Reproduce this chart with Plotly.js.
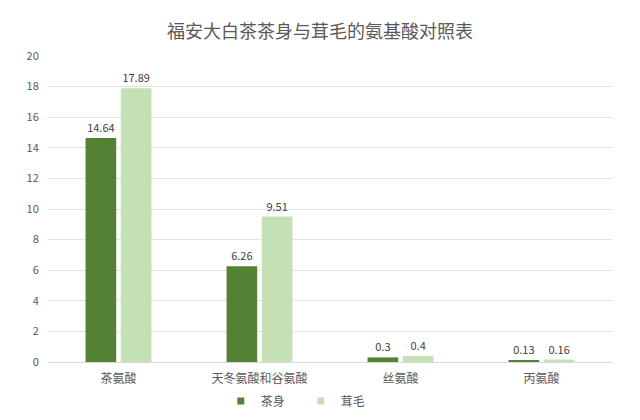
<!DOCTYPE html>
<html>
<head>
<meta charset="utf-8">
<script src="https://cdn.plot.ly/plotly-3.0.1.min.js"></script>
<style>html,body{margin:0;padding:0;background:#fff;}#chart{width:640px;height:420px;}</style>
</head>
<body>
<div id="chart"></div>
<script>
const categories = ['茶氨酸', '天冬氨酸和谷氨酸', '丝氨酸', '丙氨酸'];
const seriesNames = ['茶身', '茸毛'];
const seriesColors = ['#548235', '#c5e0b4'];
const chaShen = [14.64, 6.26, 0.3, 0.13];
const rongMao = [17.89, 9.51, 0.4, 0.16];
const yTicks = [0, 2, 4, 6, 8, 10, 12, 14, 16, 18, 20];

const font = "'Noto Sans CJK SC', 'Noto Sans', sans-serif";
const barSeries = [chaShen, rongMao];
const traces = barSeries.map((vals, i) => ({
  type: 'bar', name: seriesNames[i], x: categories, y: vals, showlegend: false,
  marker: {color: seriesColors[i]}, text: vals.map(String), textposition: 'outside',
  textfont: {size: 11, color: '#404040'}, cliponaxis: false
}));
// legend entries with small square swatches
seriesNames.forEach((n, i) => traces.push({
  type: 'scatter', mode: 'markers', name: n, x: [null], y: [null],
  marker: {symbol: 'square', size: 7, color: seriesColors[i]}, showlegend: true
}));
const layout = {
  width: 640, height: 420,
  margin: {l: 48, r: 28, t: 56, b: 58},
  paper_bgcolor: '#fff', plot_bgcolor: '#fff',
  font: {family: font, color: '#595959', size: 11},
  title: {text: '福安大白茶茶身与茸毛的氨基酸对照表', x: 0.5, xanchor: 'center', y: 0.925, yanchor: 'middle',
          font: {size: 18, color: '#595959', family: font}},
  barmode: 'group', bargap: 0.5, bargroupgap: 0.13,
  xaxis: {type: 'category', showgrid: false, showline: true, linecolor: '#d9d9d9',
          ticks: 'outside', ticklen: 6, tickcolor: 'rgba(0,0,0,0)',
          tickfont: {size: 12, color: '#595959'}},
  yaxis: {range: [0, 20], tickvals: yTicks, showgrid: true, gridcolor: '#e3e3e3', zeroline: false,
          showline: false, ticks: 'outside', ticklen: 6, tickcolor: 'rgba(0,0,0,0)',
          tickfont: {size: 11, color: '#595959'}},
  legend: {orientation: 'h', x: 0.47, xanchor: 'center', xref: 'container',
           y: 0.045, yanchor: 'middle', yref: 'container',
           font: {size: 12, color: '#595959'}, itemwidth: 30, tracegroupgap: 0,
           entrywidth: 35, entrywidthmode: 'pixels'},
  showlegend: true
};
Plotly.newPlot('chart', traces, layout, {displayModeBar: false, staticPlot: true});
</script>
</body>
</html>
